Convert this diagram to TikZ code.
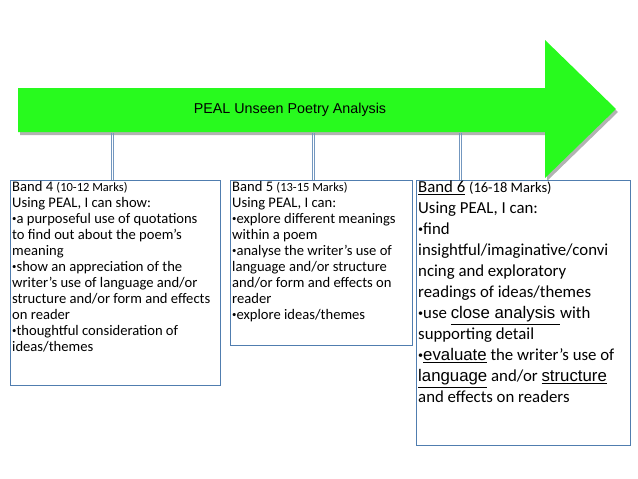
\documentclass[tikz,border=0pt]{standalone}
\usepackage{fontspec}
\setmainfont{Carlito}
\newfontfamily\arialfont{Liberation Sans}
\definecolor{boxblue}{RGB}{80,125,175}
\definecolor{arrowgreen}{RGB}{40,250,30}
\newcommand{\bandbullet}{\raisebox{0.25ex}{\scalebox{0.6}{•}}}
\begin{document}
\begin{tikzpicture}[x=1pt,y=-1pt]
\tikzset{
  bandbox/.style={draw=boxblue, line width=0.9pt},
  bandtext/.style={anchor=north west, align=left, inner sep=2pt},
  link/.style={draw=boxblue!80, line width=0.5pt}
}
\useasboundingbox (0,0) rectangle (638,479);

% the big arrow
\fill[gray!60] (20,91) -- (547,91) -- (547,43) -- (618,112) -- (547,181) -- (547,135) -- (20,135) -- cycle;
\fill[arrowgreen] (18,88) -- (545,88) -- (545,40) -- (616,109) -- (545,178) -- (545,132) -- (18,132) -- cycle;
\node[font=\arialfont\fontsize{14.3}{16}\selectfont] (title) at (290,110) {PEAL Unseen Poetry Analysis};

\coordinate (a1) at (112,133);
\coordinate (a2) at (313,133);
\coordinate (a3) at (460,133);
\coordinate (b1) at (112,180);
\coordinate (b2) at (313,180);
\coordinate (b3) at (460,180);

\draw[bandbox] (10,180) rectangle (220,385);
\node[bandtext, font=\fontsize{14.6}{16}\selectfont] (band4) at (10,179) {Band 4 {\fontsize{12.5}{16}\selectfont(10-12 Marks)}\\
Using PEAL, I can show:\\
\bandbullet a purposeful use of quotations\\
to find out about the poem’s\\
meaning\\
\bandbullet show an appreciation of the\\
writer’s use of language and/or\\
structure and/or form and effects\\
on reader\\
\bandbullet thoughtful consideration of\\
ideas/themes};

\draw[bandbox] (230,180) rectangle (412,345);
\node[bandtext, font=\fontsize{14.6}{16}\selectfont] (band5) at (230,179) {Band 5 {\fontsize{12.5}{16}\selectfont(13-15 Marks)}\\
Using PEAL, I can:\\
\bandbullet explore different meanings\\
within a poem\\
\bandbullet analyse the writer’s use of\\
language and/or structure\\
and/or form and effects on\\
reader\\
\bandbullet explore ideas/themes};

\draw[bandbox] (416,180) rectangle (630,445);
\node[bandtext, font=\fontsize{16.8}{21}\selectfont] (band6) at (416,179) {\underline{Band 6} {\fontsize{14.5}{21}\selectfont(16-18 Marks)}\\
Using PEAL, I can:\\
\bandbullet find\\
insightful/imaginative/convi\\
ncing and exploratory\\
readings of ideas/themes\\
\bandbullet use {\arialfont\underline{close analysis }}with\\
supporting detail\\
\bandbullet{\arialfont\underline{evaluate}} the writer’s use of\\
{\arialfont\underline{language}} and/or {\arialfont\underline{structure}}\\
and effects on readers};

\foreach \i in {1,2,3} {
  \draw[link] ([xshift=-1.2pt]a\i) -- ([xshift=-1.2pt]b\i);
  \draw[link] ([xshift=1.2pt]a\i) -- ([xshift=1.2pt]b\i);
}
\end{tikzpicture}
\end{document}
